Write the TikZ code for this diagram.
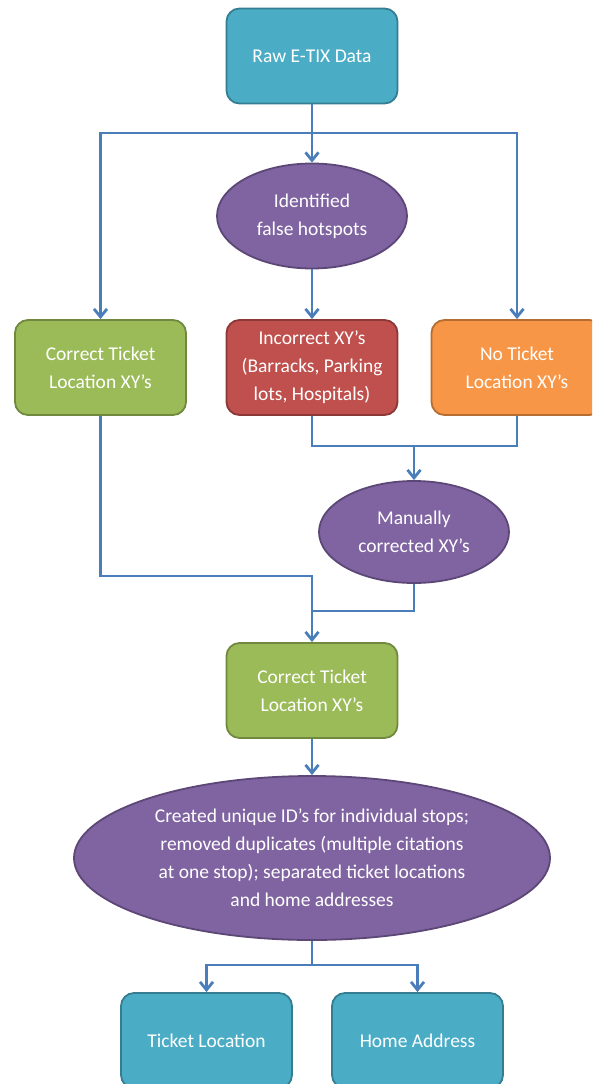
\documentclass[tikz,border=0pt]{standalone}
\usepackage{fontspec}
\setmainfont{Carlito}
\usetikzlibrary{shapes.geometric,arrows.meta}
\definecolor{tealF}{HTML}{4BACC6}\definecolor{tealD}{HTML}{357D91}
\definecolor{purF}{HTML}{8064A2}\definecolor{purD}{HTML}{5C4776}
\definecolor{grnF}{HTML}{9BBB59}\definecolor{grnD}{HTML}{71893F}
\definecolor{redF}{HTML}{C0504D}\definecolor{redD}{HTML}{8C3836}
\definecolor{orgF}{HTML}{F79646}\definecolor{orgD}{HTML}{B66D31}
\definecolor{lineC}{HTML}{4A7EBB}
\begin{document}
\begin{tikzpicture}[x=1pt,y=-1pt,
  txt/.style={text=white,align=center,font=\fontsize{19.5}{28}\selectfont},
  boxS/.style={txt,rectangle,rounded corners=13pt,line width=1.8pt,minimum width=171pt,minimum height=95pt,inner sep=0pt},
  ellS/.style={txt,ellipse,line width=1.8pt,inner sep=0pt},
  conn/.style={draw=lineC,line width=2.8pt},
  arr/.style={conn,-{Straight Barb[length=8pt,width=13pt,line width=2.8pt]}}]
\useasboundingbox (0,0) rectangle (592,1084);
\clip (0,0) rectangle (592,1084);
\node[boxS,fill=tealF,draw=tealD] (raw) at (312,56) {Raw E-TIX Data};
\node[ellS,fill=purF,draw=purD,minimum width=190pt,minimum height=105pt] (hot) at (312,216) {Identified\\false hotspots};
\node[boxS,fill=grnF,draw=grnD] (g1) at (100.5,367.5) {Correct Ticket\\Location XY’s};
\node[boxS,fill=redF,draw=redD] (red) at (312,367.5) {Incorrect XY’s\\(Barracks, Parking\\lots, Hospitals)};
\node[boxS,fill=orgF,draw=orgD] (org) at (517,367.5) {No Ticket\\Location XY’s};
\node[ellS,fill=purF,draw=purD,minimum width=190pt,minimum height=102pt] (man) at (414,532) {Manually\\corrected XY’s};
\node[boxS,fill=grnF,draw=grnD] (g2) at (312,690.5) {Correct Ticket\\Location XY’s};
\node[ellS,fill=purF,draw=purD,minimum width=476pt,minimum height=164pt] (big) at (312,858) {Created unique ID’s for individual stops;\\removed duplicates (multiple citations\\at one stop); separated ticket locations\\and home addresses};
\node[boxS,fill=tealF,draw=tealD] (tl) at (206.5,1040.5) {Ticket Location};
\node[boxS,fill=tealF,draw=tealD] (ha) at (417.5,1040.5) {Home Address};
\coordinate (s0) at (312,133);
\coordinate (j1) at (414,446);
\coordinate (j2) at (312,576);
\coordinate (j2b) at (312,611);
\coordinate (j3) at (312,965);
\draw[arr] (raw.south) -- (hot.north);
\draw[arr] (s0) -| (g1.north);
\draw[arr] (s0) -| (org.north);
\draw[arr] (hot.south) -- (red.north);
\draw[conn] (red.south) |- (j1) -| (org.south);
\draw[arr] (j1) -- (man.north);
\draw[arr] (g1.south) |- (j2) -- (g2.north);
\draw[conn] (man.south) |- (j2b);
\draw[arr] (g2.south) -- (big.north);
\draw[conn] (big.south) -- (j3);
\draw[arr] (j3) -| (tl.north);
\draw[arr] (j3) -| (ha.north);
\end{tikzpicture}
\end{document}
